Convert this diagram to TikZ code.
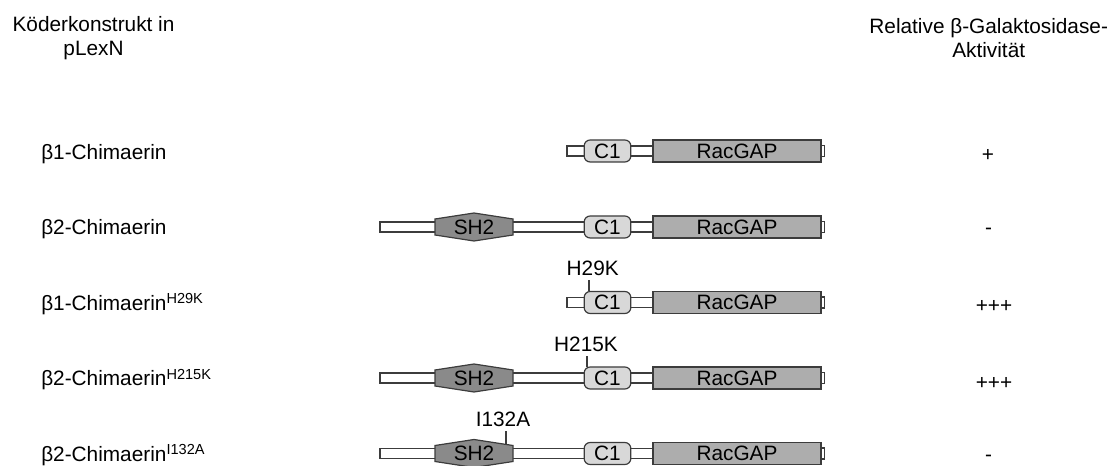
\documentclass[tikz,border=0pt]{standalone}
\usepackage{fontspec}
\setmainfont{Liberation Sans}
\definecolor{edgegray}{HTML}{3C3C3C}
\definecolor{c1gray}{HTML}{D8D8D8}
\definecolor{gapgray}{HTML}{ADADAD}
\definecolor{sh2gray}{HTML}{8A8A8A}

\begin{document}
\begin{tikzpicture}[x=0.75pt, y=-0.75pt,
		every node/.style={font=\fontsize{15.6pt}{18pt}\selectfont, inner sep=0pt},
		linker/.style={draw=edgegray, fill=white, line width=0.9pt},
		domainbox/.style={draw=edgegray, line width=0.9pt, minimum height=16.5pt},
		c1box/.style={domainbox, fill=c1gray, rounded corners=4.5pt, minimum width=35pt},
		gapbox/.style={domainbox, fill=gapgray, minimum width=126pt},
		sh2box/.style={draw=edgegray, fill=sh2gray, line width=0.9pt},
		tick/.style={draw=edgegray, line width=0.8pt}]
		\useasboundingbox (0,0) rectangle (1117,466);
		% column headers
		\node[anchor=base, align=center] (hdrl) at (93.5,55.5) {Köderkonstrukt in\\pLexN};
		\node[anchor=base, align=center] (hdrr) at (988.7,58) {Relative β-Galaktosidase-\\Aktivität};
		% row 1
		\draw[linker] (567,146) rectangle (653,156);
		\draw[linker] (821,145.5) rectangle (824.5,156.5);
		\node[c1box] (c1a) at (607.5,151) {C1};
		\node[gapbox] (gapa) at (737,151) {RacGAP};
		\node[anchor=base west] (namea) at (41,159.3) {β1-Chimaerin};
		\node[anchor=base] (acta) at (988,162) {+};
		% row 2
		\draw[linker] (380,222) rectangle (653,232);
		\draw[linker] (821,221.5) rectangle (824.5,232.5);
		\draw[sh2box] (435,219) -- (435,235) -- (474,241) -- (513,235) -- (513,219) -- (474,213) -- cycle;
		\node (sh2b) at (474,227) {SH2};
		\node[c1box] (c1b) at (607.5,227) {C1};
		\node[gapbox] (gapb) at (737,227) {RacGAP};
		\node[anchor=base west] (nameb) at (41,235) {β2-Chimaerin};
		\node[anchor=base] (actb) at (988.7,235) {-};
		% row 3
		\draw[linker] (567,297.5) rectangle (653,307.5);
		\draw[linker] (821,297) rectangle (824.5,308);
		\node[c1box] (c1c) at (607.5,302.5) {C1};
		\node[gapbox] (gapc) at (737,302.5) {RacGAP};
		\node[anchor=base] (mutc) at (592.7,275.7) {H29K};
		\coordinate (tipc) at (589,291.5);
		\draw[tick] (mutc.south -| tipc) ++(0,4) -- (tipc);
		\node[anchor=base west] (namec) at (41,310.8) {β1-Chimaerin\textsuperscript{H29K}};
		\node[anchor=base] (actc) at (994,313) {+++};
		% row 4
		\draw[linker] (380,373) rectangle (653,383);
		\draw[linker] (821,372.5) rectangle (824.5,383.5);
		\draw[sh2box] (435,370) -- (435,386) -- (474,392) -- (513,386) -- (513,370) -- (474,364) -- cycle;
		\node (sh2d) at (474,378) {SH2};
		\node[c1box] (c1d) at (607.5,378) {C1};
		\node[gapbox] (gapd) at (737,378) {RacGAP};
		\node[anchor=base] (mutd) at (586,351.7) {H215K};
		\coordinate (tipd) at (587,367);
		\draw[tick] (mutd.south -| tipd) ++(0,4) -- (tipd);
		\node[anchor=base west] (named) at (41,386) {β2-Chimaerin\textsuperscript{H215K}};
		\node[anchor=base] (actd) at (994,389) {+++};
		% row 5
		\draw[linker] (380,448.5) rectangle (653,458.5);
		\draw[linker] (821,448) rectangle (824.5,459);
		\draw[sh2box] (435,445.5) -- (435,461.5) -- (474,467.5) -- (513,461.5) -- (513,445.5) -- (474,439.5) -- cycle;
		\node (sh2e) at (474,453.5) {SH2};
		\node[c1box] (c1e) at (607.5,453.5) {C1};
		\node[gapbox] (gape) at (737,453.5) {RacGAP};
		\node[anchor=base] (mute) at (503,426.7) {I132A};
		\coordinate (tipe) at (506,444.4);
		\draw[tick] (mute.south -| tipe) ++(0,4) -- (tipe);
		\node[anchor=base west] (namee) at (41,461.8) {β2-Chimaerin\textsuperscript{I132A}};
		\node[anchor=base] (acte) at (988.7,461.5) {-};
\end{tikzpicture}
\end{document}
